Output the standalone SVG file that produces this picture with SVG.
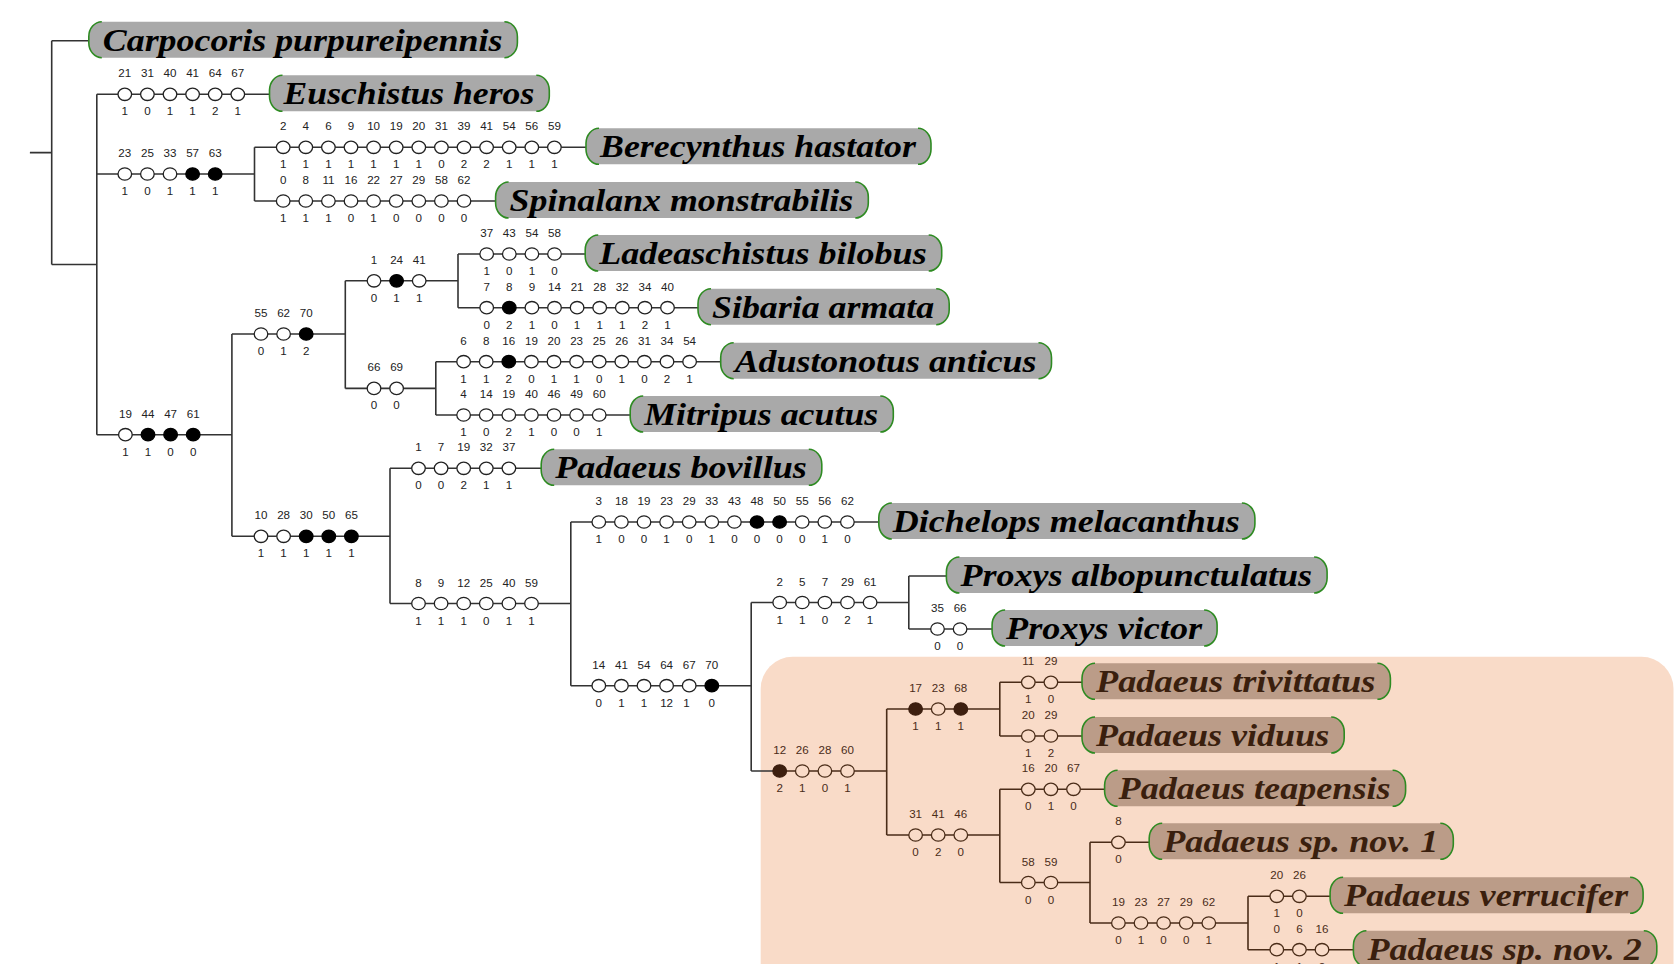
<svg xmlns="http://www.w3.org/2000/svg" xmlns:xlink="http://www.w3.org/1999/xlink" width="1680" height="964" viewBox="0 0 1680 964">
<style>
.ln{fill:none;stroke:#333;stroke-width:1.6}
.lb{fill:none;stroke:#4a2c18;stroke-width:1.6}
.t{font-family:"Liberation Sans",Arial,sans-serif;font-size:11.6px;fill:#222;text-anchor:middle}
.tb{font-family:"Liberation Sans",Arial,sans-serif;font-size:11.6px;fill:#4a2c18;text-anchor:middle}
.tip rect{fill:#a9a9a9}
.tipb rect{fill:#bb9c88}
.tip path,.tipb path{fill:none;stroke:#2e8b22;stroke-width:1.6}
.tip text,.tipb text{font-family:"Liberation Serif","Times New Roman",serif;font-weight:bold;font-style:italic;font-size:31px}
.tip text{fill:#000}
.tipb text{fill:#3a1f0e}
</style>
<defs>
<ellipse id="o" rx="6.8" ry="6.2" fill="#fff" stroke="#222" stroke-width="1.3"/>
<ellipse id="f" rx="6.8" ry="6.2" fill="#000" stroke="#000" stroke-width="1.3"/>
<ellipse id="ob" rx="6.8" ry="6.2" fill="#f9dbc8" stroke="#4a2c18" stroke-width="1.3"/>
<ellipse id="fb" rx="6.8" ry="6.2" fill="#3d1f0f" stroke="#3d1f0f" stroke-width="1.3"/>
</defs>
<rect id="clade" x="760.7" y="656.8" width="912.8" height="340" rx="32" ry="32" fill="#f9dbc8"/>
<g id="connectors">
<path class="ln" d="M29.9 152.6H51.7M51.7 40.7V264.5M51.7 40.7H88.8M51.7 264.5H96.8M96.8 94.3V434.7M96.8 94.3H269.5M96.8 174H254.5M254.5 147.3V201M254.5 147.3H586M254.5 201H495.6M96.8 434.7H231.9M231.9 334V536.3M231.9 334H345.3M345.3 280.8V388.4M345.3 280.8H458M458 254V307.7M458 254H585.2M458 307.7H698M345.3 388.4H435.8M435.8 361.7V415M435.8 361.7H720.7M435.8 415H630.2M231.9 536.3H390M390 468.3V603.5M390 468.3H541.2M390 603.5H570.8M570.8 522V685.7M570.8 522H878.8M570.8 685.7H751.2M751.2 602.5V771M751.2 602.5H908.8M908.8 576V629M908.8 576H946.4M908.8 629H992.1M751.2 771H773"/>
<path class="lb" d="M773 771H886.7M886.7 709V835M886.7 709H999.8M999.8 682.3V736M999.8 682.3H1082M999.8 736H1082M886.7 835H999.8M999.8 789.3V882.5M999.8 789.3H1104.6M999.8 882.5H1090M1090 842.3V923M1090 842.3H1149.2M1090 923H1248M1248 896.3V949.7M1248 896.3H1330.1M1248 949.7H1353.4"/>
</g>

<g id="chars-euschistus">
<use href="#o" x="124.8" y="94.3"/><use href="#o" x="147.4" y="94.3"/><use href="#o" x="170" y="94.3"/><use href="#o" x="192.6" y="94.3"/><use href="#o" x="215.2" y="94.3"/><use href="#o" x="237.8" y="94.3"/>
<g class="t"><text x="124.8" y="77.3">21</text><text x="147.4" y="77.3">31</text><text x="170" y="77.3">40</text><text x="192.6" y="77.3">41</text><text x="215.2" y="77.3">64</text><text x="237.8" y="77.3">67</text>
<text x="124.8" y="115.3">1</text><text x="147.4" y="115.3">0</text><text x="170" y="115.3">1</text><text x="192.6" y="115.3">1</text><text x="215.2" y="115.3">2</text><text x="237.8" y="115.3">1</text></g>
</g>

<g id="chars-node-b">
<use href="#o" x="124.8" y="174"/><use href="#o" x="147.4" y="174"/><use href="#o" x="170" y="174"/><use href="#f" x="192.6" y="174"/><use href="#f" x="215.2" y="174"/>
<g class="t"><text x="124.8" y="157">23</text><text x="147.4" y="157">25</text><text x="170" y="157">33</text><text x="192.6" y="157">57</text><text x="215.2" y="157">63</text>
<text x="124.8" y="195">1</text><text x="147.4" y="195">0</text><text x="170" y="195">1</text><text x="192.6" y="195">1</text><text x="215.2" y="195">1</text></g>
</g>

<g id="chars-berecynthus">
<use href="#o" x="283.2" y="147.3"/><use href="#o" x="305.8" y="147.3"/><use href="#o" x="328.4" y="147.3"/><use href="#o" x="351" y="147.3"/><use href="#o" x="373.6" y="147.3"/><use href="#o" x="396.2" y="147.3"/><use href="#o" x="418.8" y="147.3"/><use href="#o" x="441.4" y="147.3"/><use href="#o" x="464" y="147.3"/><use href="#o" x="486.6" y="147.3"/><use href="#o" x="509.2" y="147.3"/><use href="#o" x="531.8" y="147.3"/><use href="#o" x="554.4" y="147.3"/>
<g class="t"><text x="283.2" y="130.3">2</text><text x="305.8" y="130.3">4</text><text x="328.4" y="130.3">6</text><text x="351" y="130.3">9</text><text x="373.6" y="130.3">10</text><text x="396.2" y="130.3">19</text><text x="418.8" y="130.3">20</text><text x="441.4" y="130.3">31</text><text x="464" y="130.3">39</text><text x="486.6" y="130.3">41</text><text x="509.2" y="130.3">54</text><text x="531.8" y="130.3">56</text><text x="554.4" y="130.3">59</text>
<text x="283.2" y="168.3">1</text><text x="305.8" y="168.3">1</text><text x="328.4" y="168.3">1</text><text x="351" y="168.3">1</text><text x="373.6" y="168.3">1</text><text x="396.2" y="168.3">1</text><text x="418.8" y="168.3">1</text><text x="441.4" y="168.3">0</text><text x="464" y="168.3">2</text><text x="486.6" y="168.3">2</text><text x="509.2" y="168.3">1</text><text x="531.8" y="168.3">1</text><text x="554.4" y="168.3">1</text></g>
</g>

<g id="chars-spinalanx">
<use href="#o" x="283.2" y="201"/><use href="#o" x="305.8" y="201"/><use href="#o" x="328.4" y="201"/><use href="#o" x="351" y="201"/><use href="#o" x="373.6" y="201"/><use href="#o" x="396.2" y="201"/><use href="#o" x="418.8" y="201"/><use href="#o" x="441.4" y="201"/><use href="#o" x="464" y="201"/>
<g class="t"><text x="283.2" y="184">0</text><text x="305.8" y="184">8</text><text x="328.4" y="184">11</text><text x="351" y="184">16</text><text x="373.6" y="184">22</text><text x="396.2" y="184">27</text><text x="418.8" y="184">29</text><text x="441.4" y="184">58</text><text x="464" y="184">62</text>
<text x="283.2" y="222">1</text><text x="305.8" y="222">1</text><text x="328.4" y="222">1</text><text x="351" y="222">0</text><text x="373.6" y="222">1</text><text x="396.2" y="222">0</text><text x="418.8" y="222">0</text><text x="441.4" y="222">0</text><text x="464" y="222">0</text></g>
</g>

<g id="chars-node-e">
<use href="#o" x="125.4" y="434.7"/><use href="#f" x="148" y="434.7"/><use href="#f" x="170.6" y="434.7"/><use href="#f" x="193.2" y="434.7"/>
<g class="t"><text x="125.4" y="417.7">19</text><text x="148" y="417.7">44</text><text x="170.6" y="417.7">47</text><text x="193.2" y="417.7">61</text>
<text x="125.4" y="455.7">1</text><text x="148" y="455.7">1</text><text x="170.6" y="455.7">0</text><text x="193.2" y="455.7">0</text></g>
</g>

<g id="chars-node-f">
<use href="#o" x="261" y="334"/><use href="#o" x="283.6" y="334"/><use href="#f" x="306.2" y="334"/>
<g class="t"><text x="261" y="317">55</text><text x="283.6" y="317">62</text><text x="306.2" y="317">70</text>
<text x="261" y="355">0</text><text x="283.6" y="355">1</text><text x="306.2" y="355">2</text></g>
</g>

<g id="chars-node-g">
<use href="#o" x="261" y="536.3"/><use href="#o" x="283.6" y="536.3"/><use href="#f" x="306.2" y="536.3"/><use href="#f" x="328.8" y="536.3"/><use href="#f" x="351.4" y="536.3"/>
<g class="t"><text x="261" y="519.3">10</text><text x="283.6" y="519.3">28</text><text x="306.2" y="519.3">30</text><text x="328.8" y="519.3">50</text><text x="351.4" y="519.3">65</text>
<text x="261" y="557.3">1</text><text x="283.6" y="557.3">1</text><text x="306.2" y="557.3">1</text><text x="328.8" y="557.3">1</text><text x="351.4" y="557.3">1</text></g>
</g>

<g id="chars-node-h">
<use href="#o" x="374" y="280.8"/><use href="#f" x="396.6" y="280.8"/><use href="#o" x="419.2" y="280.8"/>
<g class="t"><text x="374" y="263.8">1</text><text x="396.6" y="263.8">24</text><text x="419.2" y="263.8">41</text>
<text x="374" y="301.8">0</text><text x="396.6" y="301.8">1</text><text x="419.2" y="301.8">1</text></g>
</g>

<g id="chars-node-i">
<use href="#o" x="374" y="388.4"/><use href="#o" x="396.6" y="388.4"/>
<g class="t"><text x="374" y="371.4">66</text><text x="396.6" y="371.4">69</text>
<text x="374" y="409.4">0</text><text x="396.6" y="409.4">0</text></g>
</g>

<g id="chars-ladeaschistus">
<use href="#o" x="486.7" y="254"/><use href="#o" x="509.3" y="254"/><use href="#o" x="531.9" y="254"/><use href="#o" x="554.5" y="254"/>
<g class="t"><text x="486.7" y="237">37</text><text x="509.3" y="237">43</text><text x="531.9" y="237">54</text><text x="554.5" y="237">58</text>
<text x="486.7" y="275">1</text><text x="509.3" y="275">0</text><text x="531.9" y="275">1</text><text x="554.5" y="275">0</text></g>
</g>

<g id="chars-sibaria">
<use href="#o" x="486.7" y="307.7"/><use href="#f" x="509.3" y="307.7"/><use href="#o" x="531.9" y="307.7"/><use href="#o" x="554.5" y="307.7"/><use href="#o" x="577.1" y="307.7"/><use href="#o" x="599.7" y="307.7"/><use href="#o" x="622.3" y="307.7"/><use href="#o" x="644.9" y="307.7"/><use href="#o" x="667.5" y="307.7"/>
<g class="t"><text x="486.7" y="290.7">7</text><text x="509.3" y="290.7">8</text><text x="531.9" y="290.7">9</text><text x="554.5" y="290.7">14</text><text x="577.1" y="290.7">21</text><text x="599.7" y="290.7">28</text><text x="622.3" y="290.7">32</text><text x="644.9" y="290.7">34</text><text x="667.5" y="290.7">40</text>
<text x="486.7" y="328.7">0</text><text x="509.3" y="328.7">2</text><text x="531.9" y="328.7">1</text><text x="554.5" y="328.7">0</text><text x="577.1" y="328.7">1</text><text x="599.7" y="328.7">1</text><text x="622.3" y="328.7">1</text><text x="644.9" y="328.7">2</text><text x="667.5" y="328.7">1</text></g>
</g>

<g id="chars-adustonotus">
<use href="#o" x="463.6" y="361.7"/><use href="#o" x="486.2" y="361.7"/><use href="#f" x="508.8" y="361.7"/><use href="#o" x="531.4" y="361.7"/><use href="#o" x="554" y="361.7"/><use href="#o" x="576.6" y="361.7"/><use href="#o" x="599.2" y="361.7"/><use href="#o" x="621.8" y="361.7"/><use href="#o" x="644.4" y="361.7"/><use href="#o" x="667" y="361.7"/><use href="#o" x="689.6" y="361.7"/>
<g class="t"><text x="463.6" y="344.7">6</text><text x="486.2" y="344.7">8</text><text x="508.8" y="344.7">16</text><text x="531.4" y="344.7">19</text><text x="554" y="344.7">20</text><text x="576.6" y="344.7">23</text><text x="599.2" y="344.7">25</text><text x="621.8" y="344.7">26</text><text x="644.4" y="344.7">31</text><text x="667" y="344.7">34</text><text x="689.6" y="344.7">54</text>
<text x="463.6" y="382.7">1</text><text x="486.2" y="382.7">1</text><text x="508.8" y="382.7">2</text><text x="531.4" y="382.7">0</text><text x="554" y="382.7">1</text><text x="576.6" y="382.7">1</text><text x="599.2" y="382.7">0</text><text x="621.8" y="382.7">1</text><text x="644.4" y="382.7">0</text><text x="667" y="382.7">2</text><text x="689.6" y="382.7">1</text></g>
</g>

<g id="chars-mitripus">
<use href="#o" x="463.6" y="415"/><use href="#o" x="486.2" y="415"/><use href="#o" x="508.8" y="415"/><use href="#o" x="531.4" y="415"/><use href="#o" x="554" y="415"/><use href="#o" x="576.6" y="415"/><use href="#o" x="599.2" y="415"/>
<g class="t"><text x="463.6" y="398">4</text><text x="486.2" y="398">14</text><text x="508.8" y="398">19</text><text x="531.4" y="398">40</text><text x="554" y="398">46</text><text x="576.6" y="398">49</text><text x="599.2" y="398">60</text>
<text x="463.6" y="436">1</text><text x="486.2" y="436">0</text><text x="508.8" y="436">2</text><text x="531.4" y="436">1</text><text x="554" y="436">0</text><text x="576.6" y="436">0</text><text x="599.2" y="436">1</text></g>
</g>

<g id="chars-bovillus">
<use href="#o" x="418.5" y="468.3"/><use href="#o" x="441.1" y="468.3"/><use href="#o" x="463.7" y="468.3"/><use href="#o" x="486.3" y="468.3"/><use href="#o" x="508.9" y="468.3"/>
<g class="t"><text x="418.5" y="451.3">1</text><text x="441.1" y="451.3">7</text><text x="463.7" y="451.3">19</text><text x="486.3" y="451.3">32</text><text x="508.9" y="451.3">37</text>
<text x="418.5" y="489.3">0</text><text x="441.1" y="489.3">0</text><text x="463.7" y="489.3">2</text><text x="486.3" y="489.3">1</text><text x="508.9" y="489.3">1</text></g>
</g>

<g id="chars-node-o">
<use href="#o" x="418.5" y="603.5"/><use href="#o" x="441.1" y="603.5"/><use href="#o" x="463.7" y="603.5"/><use href="#o" x="486.3" y="603.5"/><use href="#o" x="508.9" y="603.5"/><use href="#o" x="531.5" y="603.5"/>
<g class="t"><text x="418.5" y="586.5">8</text><text x="441.1" y="586.5">9</text><text x="463.7" y="586.5">12</text><text x="486.3" y="586.5">25</text><text x="508.9" y="586.5">40</text><text x="531.5" y="586.5">59</text>
<text x="418.5" y="624.5">1</text><text x="441.1" y="624.5">1</text><text x="463.7" y="624.5">1</text><text x="486.3" y="624.5">0</text><text x="508.9" y="624.5">1</text><text x="531.5" y="624.5">1</text></g>
</g>

<g id="chars-dichelops">
<use href="#o" x="598.8" y="522"/><use href="#o" x="621.4" y="522"/><use href="#o" x="644" y="522"/><use href="#o" x="666.6" y="522"/><use href="#o" x="689.2" y="522"/><use href="#o" x="711.8" y="522"/><use href="#o" x="734.4" y="522"/><use href="#f" x="757" y="522"/><use href="#f" x="779.6" y="522"/><use href="#o" x="802.2" y="522"/><use href="#o" x="824.8" y="522"/><use href="#o" x="847.4" y="522"/>
<g class="t"><text x="598.8" y="505">3</text><text x="621.4" y="505">18</text><text x="644" y="505">19</text><text x="666.6" y="505">23</text><text x="689.2" y="505">29</text><text x="711.8" y="505">33</text><text x="734.4" y="505">43</text><text x="757" y="505">48</text><text x="779.6" y="505">50</text><text x="802.2" y="505">55</text><text x="824.8" y="505">56</text><text x="847.4" y="505">62</text>
<text x="598.8" y="543">1</text><text x="621.4" y="543">0</text><text x="644" y="543">0</text><text x="666.6" y="543">1</text><text x="689.2" y="543">0</text><text x="711.8" y="543">1</text><text x="734.4" y="543">0</text><text x="757" y="543">0</text><text x="779.6" y="543">0</text><text x="802.2" y="543">0</text><text x="824.8" y="543">1</text><text x="847.4" y="543">0</text></g>
</g>

<g id="chars-node-q">
<use href="#o" x="598.8" y="685.7"/><use href="#o" x="621.4" y="685.7"/><use href="#o" x="644" y="685.7"/><use href="#o" x="666.6" y="685.7"/><use href="#o" x="689.2" y="685.7"/><use href="#f" x="711.8" y="685.7"/>
<g class="t"><text x="598.8" y="668.7">14</text><text x="621.4" y="668.7">41</text><text x="644" y="668.7">54</text><text x="666.6" y="668.7">64</text><text x="689.2" y="668.7">67</text><text x="711.8" y="668.7">70</text>
<text x="598.8" y="706.7">0</text><text x="621.4" y="706.7">1</text><text x="644" y="706.7">1</text><text x="666.6" y="706.7">12</text><text x="686.5" y="706.7">1</text><text x="711.8" y="706.7">0</text></g>
</g>

<g id="chars-node-r">
<use href="#o" x="779.7" y="602.5"/><use href="#o" x="802.3" y="602.5"/><use href="#o" x="824.9" y="602.5"/><use href="#o" x="847.5" y="602.5"/><use href="#o" x="870.1" y="602.5"/>
<g class="t"><text x="779.7" y="585.5">2</text><text x="802.3" y="585.5">5</text><text x="824.9" y="585.5">7</text><text x="847.5" y="585.5">29</text><text x="870.1" y="585.5">61</text>
<text x="779.7" y="623.5">1</text><text x="802.3" y="623.5">1</text><text x="824.9" y="623.5">0</text><text x="847.5" y="623.5">2</text><text x="870.1" y="623.5">1</text></g>
</g>

<g id="chars-victor">
<use href="#o" x="937.5" y="629"/><use href="#o" x="960.1" y="629"/>
<g class="t"><text x="937.5" y="612">35</text><text x="960.1" y="612">66</text>
<text x="937.5" y="650">0</text><text x="960.1" y="650">0</text></g>
</g>

<g id="chars-node-s">
<use href="#fb" x="779.7" y="771"/><use href="#ob" x="802.3" y="771"/><use href="#ob" x="824.9" y="771"/><use href="#ob" x="847.5" y="771"/>
<g class="tb"><text x="779.7" y="754">12</text><text x="802.3" y="754">26</text><text x="824.9" y="754">28</text><text x="847.5" y="754">60</text>
<text x="779.7" y="792">2</text><text x="802.3" y="792">1</text><text x="824.9" y="792">0</text><text x="847.5" y="792">1</text></g>
</g>

<g id="chars-node-v">
<use href="#fb" x="915.6" y="709"/><use href="#ob" x="938.2" y="709"/><use href="#fb" x="960.8" y="709"/>
<g class="tb"><text x="915.6" y="692">17</text><text x="938.2" y="692">23</text><text x="960.8" y="692">68</text>
<text x="915.6" y="730">1</text><text x="938.2" y="730">1</text><text x="960.8" y="730">1</text></g>
</g>

<g id="chars-node-w">
<use href="#ob" x="915.6" y="835"/><use href="#ob" x="938.2" y="835"/><use href="#ob" x="960.8" y="835"/>
<g class="tb"><text x="915.6" y="818">31</text><text x="938.2" y="818">41</text><text x="960.8" y="818">46</text>
<text x="915.6" y="856">0</text><text x="938.2" y="856">2</text><text x="960.8" y="856">0</text></g>
</g>

<g id="chars-trivittatus">
<use href="#ob" x="1028.3" y="682.3"/><use href="#ob" x="1050.9" y="682.3"/>
<g class="tb"><text x="1028.3" y="665.3">11</text><text x="1050.9" y="665.3">29</text>
<text x="1028.3" y="703.3">1</text><text x="1050.9" y="703.3">0</text></g>
</g>

<g id="chars-viduus">
<use href="#ob" x="1028.3" y="736"/><use href="#ob" x="1050.9" y="736"/>
<g class="tb"><text x="1028.3" y="719">20</text><text x="1050.9" y="719">29</text>
<text x="1028.3" y="757">1</text><text x="1050.9" y="757">2</text></g>
</g>

<g id="chars-teapensis">
<use href="#ob" x="1028.3" y="789.3"/><use href="#ob" x="1050.9" y="789.3"/><use href="#ob" x="1073.5" y="789.3"/>
<g class="tb"><text x="1028.3" y="772.3">16</text><text x="1050.9" y="772.3">20</text><text x="1073.5" y="772.3">67</text>
<text x="1028.3" y="810.3">0</text><text x="1050.9" y="810.3">1</text><text x="1073.5" y="810.3">0</text></g>
</g>

<g id="chars-node-aa">
<use href="#ob" x="1028.3" y="882.5"/><use href="#ob" x="1050.9" y="882.5"/>
<g class="tb"><text x="1028.3" y="865.5">58</text><text x="1050.9" y="865.5">59</text>
<text x="1028.3" y="903.5">0</text><text x="1050.9" y="903.5">0</text></g>
</g>

<g id="chars-spnov1">
<use href="#ob" x="1118.4" y="842.3"/>
<g class="tb"><text x="1118.4" y="825.3">8</text><text x="1118.4" y="863.3">0</text></g>
</g>

<g id="chars-node-ac">
<use href="#ob" x="1118.4" y="923"/><use href="#ob" x="1141" y="923"/><use href="#ob" x="1163.6" y="923"/><use href="#ob" x="1186.2" y="923"/><use href="#ob" x="1208.8" y="923"/>
<g class="tb"><text x="1118.4" y="906">19</text><text x="1141" y="906">23</text><text x="1163.6" y="906">27</text><text x="1186.2" y="906">29</text><text x="1208.8" y="906">62</text>
<text x="1118.4" y="944">0</text><text x="1141" y="944">1</text><text x="1163.6" y="944">0</text><text x="1186.2" y="944">0</text><text x="1208.8" y="944">1</text></g>
</g>

<g id="chars-verrucifer">
<use href="#ob" x="1276.8" y="896.3"/><use href="#ob" x="1299.4" y="896.3"/>
<g class="tb"><text x="1276.8" y="879.3">20</text><text x="1299.4" y="879.3">26</text>
<text x="1276.8" y="917.3">1</text><text x="1299.4" y="917.3">0</text></g>
</g>

<g id="chars-spnov2">
<use href="#ob" x="1276.8" y="949.7"/><use href="#ob" x="1299.4" y="949.7"/><use href="#ob" x="1322" y="949.7"/>
<g class="tb"><text x="1276.8" y="932.7">0</text><text x="1299.4" y="932.7">6</text><text x="1322" y="932.7">16</text>
<text x="1276.8" y="970.7">1</text><text x="1299.4" y="970.7">1</text><text x="1322" y="970.7">2</text></g>
</g>

<g id="n-carpocoris" class="tip"><rect x="88.8" y="21.7" width="428.6" height="36" rx="13" ry="15"/><path d="M101.8 21.7A13 15 0 0 0 88.8 36.7V42.7A13 15 0 0 0 101.8 57.7M504.4 21.7A13 15 0 0 1 517.4 36.7V42.7A13 15 0 0 1 504.4 57.7"/><text x="102.8" y="50.7" textLength="399.6" lengthAdjust="spacingAndGlyphs">Carpocoris purpureipennis</text></g>
<g id="n-euschistus" class="tip"><rect x="269.5" y="75.3" width="279.8" height="36" rx="13" ry="15"/><path d="M282.5 75.3A13 15 0 0 0 269.5 90.3V96.3A13 15 0 0 0 282.5 111.3M536.3 75.3A13 15 0 0 1 549.3 90.3V96.3A13 15 0 0 1 536.3 111.3"/><text x="283.5" y="104.3" textLength="250.8" lengthAdjust="spacingAndGlyphs">Euschistus heros</text></g>
<g id="n-berecynthus" class="tip"><rect x="586" y="128.3" width="345" height="36" rx="13" ry="15"/><path d="M599 128.3A13 15 0 0 0 586 143.3V149.3A13 15 0 0 0 599 164.3M918 128.3A13 15 0 0 1 931 143.3V149.3A13 15 0 0 1 918 164.3"/><text x="600" y="157.3" textLength="316" lengthAdjust="spacingAndGlyphs">Berecynthus hastator</text></g>
<g id="n-spinalanx" class="tip"><rect x="495.6" y="182" width="372.7" height="36" rx="13" ry="15"/><path d="M508.6 182A13 15 0 0 0 495.6 197V203A13 15 0 0 0 508.6 218M855.3 182A13 15 0 0 1 868.3 197V203A13 15 0 0 1 855.3 218"/><text x="509.6" y="211" textLength="343.7" lengthAdjust="spacingAndGlyphs">Spinalanx monstrabilis</text></g>
<g id="n-ladeaschistus" class="tip"><rect x="585.2" y="235" width="356.5" height="36" rx="13" ry="15"/><path d="M598.2 235A13 15 0 0 0 585.2 250V256A13 15 0 0 0 598.2 271M928.7 235A13 15 0 0 1 941.7 250V256A13 15 0 0 1 928.7 271"/><text x="599.2" y="264" textLength="327.5" lengthAdjust="spacingAndGlyphs">Ladeaschistus bilobus</text></g>
<g id="n-sibaria" class="tip"><rect x="698" y="288.7" width="251.2" height="36" rx="13" ry="15"/><path d="M711 288.7A13 15 0 0 0 698 303.7V309.7A13 15 0 0 0 711 324.7M936.2 288.7A13 15 0 0 1 949.2 303.7V309.7A13 15 0 0 1 936.2 324.7"/><text x="712" y="317.7" textLength="222.2" lengthAdjust="spacingAndGlyphs">Sibaria armata</text></g>
<g id="n-adustonotus" class="tip"><rect x="720.7" y="342.7" width="330.8" height="36" rx="13" ry="15"/><path d="M733.7 342.7A13 15 0 0 0 720.7 357.7V363.7A13 15 0 0 0 733.7 378.7M1038.5 342.7A13 15 0 0 1 1051.5 357.7V363.7A13 15 0 0 1 1038.5 378.7"/><text x="734.7" y="371.7" textLength="301.8" lengthAdjust="spacingAndGlyphs">Adustonotus anticus</text></g>
<g id="n-mitripus" class="tip"><rect x="630.2" y="396" width="263.1" height="36" rx="13" ry="15"/><path d="M643.2 396A13 15 0 0 0 630.2 411V417A13 15 0 0 0 643.2 432M880.3 396A13 15 0 0 1 893.3 411V417A13 15 0 0 1 880.3 432"/><text x="644.2" y="425" textLength="234.1" lengthAdjust="spacingAndGlyphs">Mitripus acutus</text></g>
<g id="n-bovillus" class="tip"><rect x="541.2" y="449.3" width="280.6" height="36" rx="13" ry="15"/><path d="M554.2 449.3A13 15 0 0 0 541.2 464.3V470.3A13 15 0 0 0 554.2 485.3M808.8 449.3A13 15 0 0 1 821.8 464.3V470.3A13 15 0 0 1 808.8 485.3"/><text x="555.2" y="478.3" textLength="251.6" lengthAdjust="spacingAndGlyphs">Padaeus bovillus</text></g>
<g id="n-dichelops" class="tip"><rect x="878.8" y="503" width="376.1" height="36" rx="13" ry="15"/><path d="M891.8 503A13 15 0 0 0 878.8 518V524A13 15 0 0 0 891.8 539M1241.9 503A13 15 0 0 1 1254.9 518V524A13 15 0 0 1 1241.9 539"/><text x="892.8" y="532" textLength="347.1" lengthAdjust="spacingAndGlyphs">Dichelops melacanthus</text></g>
<g id="n-albopunctulatus" class="tip"><rect x="946.4" y="557" width="380.7" height="36" rx="13" ry="15"/><path d="M959.4 557A13 15 0 0 0 946.4 572V578A13 15 0 0 0 959.4 593M1314.1 557A13 15 0 0 1 1327.1 572V578A13 15 0 0 1 1314.1 593"/><text x="960.4" y="586" textLength="351.7" lengthAdjust="spacingAndGlyphs">Proxys albopunctulatus</text></g>
<g id="n-victor" class="tip"><rect x="992.1" y="610" width="225" height="36" rx="13" ry="15"/><path d="M1005.1 610A13 15 0 0 0 992.1 625V631A13 15 0 0 0 1005.1 646M1204.1 610A13 15 0 0 1 1217.1 625V631A13 15 0 0 1 1204.1 646"/><text x="1006.1" y="639" textLength="196" lengthAdjust="spacingAndGlyphs">Proxys victor</text></g>
<g id="n-trivittatus" class="tipb"><rect x="1082" y="663.3" width="308.4" height="36" rx="13" ry="15"/><path d="M1095 663.3A13 15 0 0 0 1082 678.3V684.3A13 15 0 0 0 1095 699.3M1377.4 663.3A13 15 0 0 1 1390.4 678.3V684.3A13 15 0 0 1 1377.4 699.3"/><text x="1096" y="692.3" textLength="279.4" lengthAdjust="spacingAndGlyphs">Padaeus trivittatus</text></g>
<g id="n-viduus" class="tipb"><rect x="1082" y="717" width="262.2" height="36" rx="13" ry="15"/><path d="M1095 717A13 15 0 0 0 1082 732V738A13 15 0 0 0 1095 753M1331.2 717A13 15 0 0 1 1344.2 732V738A13 15 0 0 1 1331.2 753"/><text x="1096" y="746" textLength="233.2" lengthAdjust="spacingAndGlyphs">Padaeus viduus</text></g>
<g id="n-teapensis" class="tipb"><rect x="1104.6" y="770.3" width="301" height="36" rx="13" ry="15"/><path d="M1117.6 770.3A13 15 0 0 0 1104.6 785.3V791.3A13 15 0 0 0 1117.6 806.3M1392.6 770.3A13 15 0 0 1 1405.6 785.3V791.3A13 15 0 0 1 1392.6 806.3"/><text x="1118.6" y="799.3" textLength="272" lengthAdjust="spacingAndGlyphs">Padaeus teapensis</text></g>
<g id="n-spnov1" class="tipb"><rect x="1149.2" y="823.3" width="304.1" height="36" rx="13" ry="15"/><path d="M1162.2 823.3A13 15 0 0 0 1149.2 838.3V844.3A13 15 0 0 0 1162.2 859.3M1440.3 823.3A13 15 0 0 1 1453.3 838.3V844.3A13 15 0 0 1 1440.3 859.3"/><text x="1163.2" y="852.3" textLength="275.1" lengthAdjust="spacingAndGlyphs">Padaeus sp. nov. 1</text></g>
<g id="n-verrucifer" class="tipb"><rect x="1330.1" y="877.3" width="313" height="36" rx="13" ry="15"/><path d="M1343.1 877.3A13 15 0 0 0 1330.1 892.3V898.3A13 15 0 0 0 1343.1 913.3M1630.1 877.3A13 15 0 0 1 1643.1 892.3V898.3A13 15 0 0 1 1630.1 913.3"/><text x="1344.1" y="906.3" textLength="284" lengthAdjust="spacingAndGlyphs">Padaeus verrucifer</text></g>
<g id="n-spnov2" class="tipb"><rect x="1353.4" y="930.7" width="303.4" height="36" rx="13" ry="15"/><path d="M1366.4 930.7A13 15 0 0 0 1353.4 945.7V951.7A13 15 0 0 0 1366.4 966.7M1643.8 930.7A13 15 0 0 1 1656.8 945.7V951.7A13 15 0 0 1 1643.8 966.7"/><text x="1367.4" y="959.7" textLength="274.4" lengthAdjust="spacingAndGlyphs">Padaeus sp. nov. 2</text></g>
</svg>
